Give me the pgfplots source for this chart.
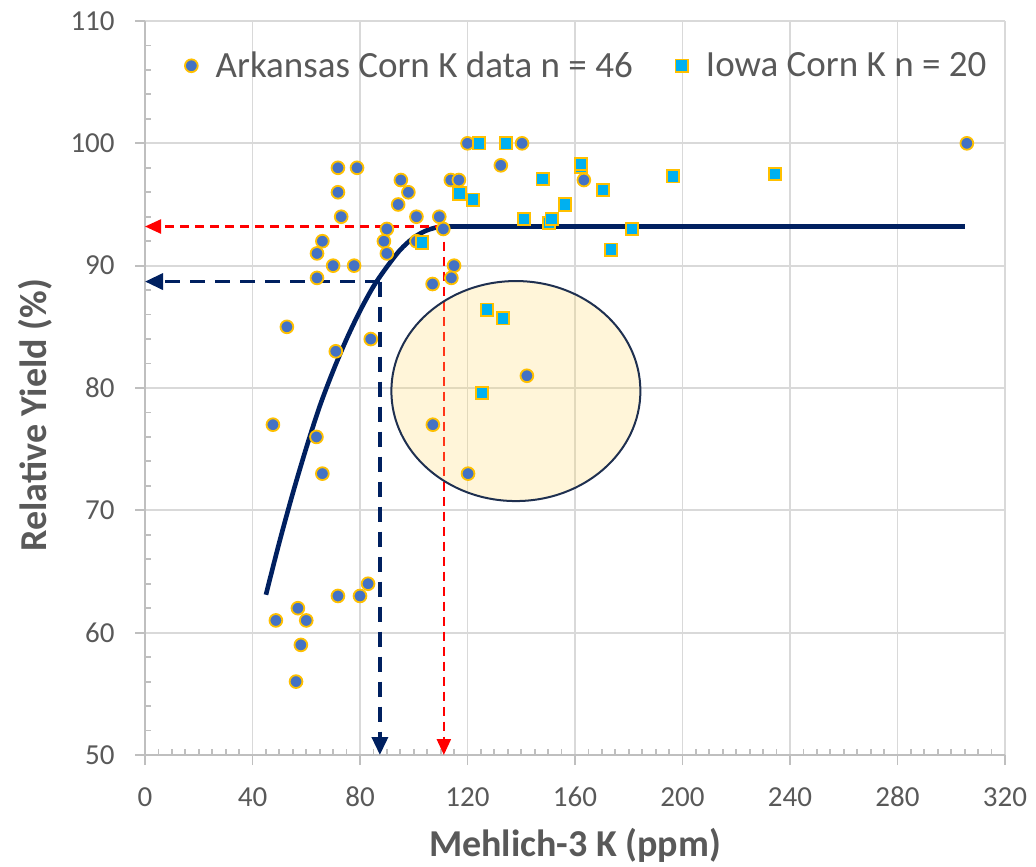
\documentclass[border=0pt]{standalone}
\usepackage{pgfplots}
\pgfplotsset{compat=1.18}
\usepackage{fontspec}
\setmainfont{Carlito}
\usetikzlibrary{arrows.meta}
\definecolor{ark}{HTML}{4472C4}
\definecolor{gold}{HTML}{FFC000}
\definecolor{iowa}{HTML}{00B0F0}
\definecolor{navy}{HTML}{002060}
\definecolor{ellnavy}{HTML}{1F3050}
\definecolor{cream}{HTML}{FFD966}
\definecolor{labelgray}{HTML}{595959}
\definecolor{gridgray}{HTML}{D9D9D9}
\definecolor{axisgray}{HTML}{BFBFBF}
\pgfplotsset{myleg/.style={legend image code/.code={\path (0cm,0cm) (0.55cm,0cm); \draw[mark repeat=2,mark phase=2,##1] plot coordinates {(0cm,0cm)(0.2cm,0cm)(0.55cm,0cm)};}}}
\begin{document}
\begin{tikzpicture}
\begin{axis}[
  scale only axis, width=430pt, height=367pt,
  xmin=0, xmax=320, ymin=50, ymax=110,
  xtick={0,40,...,320}, ytick={50,60,...,110},
  minor x tick num=7, minor y tick num=4,
  axis x line*=bottom, axis y line*=left,
  axis line style={draw=axisgray, line width=1pt, -},
  grid=major, major grid style={draw=gridgray, line width=0.9pt},
  tick align=inside, major tick length=5pt, minor tick length=3pt,
  tick style={draw=axisgray, line width=0.9pt},
  major x tick style={yshift=-5pt}, major y tick style={xshift=-5pt},
  /pgf/number format/assume math mode=true,
  ticklabel style={font=\fontsize{14.5}{17}\selectfont, text=labelgray},
  xticklabel style={anchor=center, yshift=-21pt},
  yticklabel style={anchor=east, inner sep=0pt, xshift=-15pt},
  xlabel={Mehlich-3 K (ppm)}, ylabel={Relative Yield (\%)},
  label style={font=\fontsize{19}{22}\selectfont\bfseries, text=labelgray},
  xlabel style={at={(axis description cs:0.5,-0.1226)}, anchor=center},
  ylabel style={at={(axis description cs:-0.128,0.463)}, anchor=center},
  legend columns=2,
  legend style={at={(0.5116,0.939)}, anchor=center, draw=none, fill=none,
    font=\fontsize{18.5}{22}\selectfont, text=labelgray,
    /tikz/every even column/.append style={column sep=16.5pt}},
  clip=false,
]
% fitted curve
\addplot[forget plot, navy, line width=2.3pt, smooth] coordinates {
 (45,63.1)(50,67.4)(55,71.4)(60,75.1)(65,78.5)(70,81.4)(75,84.0)(80,86.3)
 (85,88.3)(90,89.9)(95,91.3)(100,92.3)(105,92.9)(110,93.2)(112,93.2)};
\addplot[forget plot, navy, line width=2.3pt] coordinates {(112,93.2)(305,93.2)};
% dashed guides
\addplot[forget plot, navy, line width=1.8pt, dash pattern=on 7.5pt off 5pt, -{Triangle[length=9pt,width=8pt]}] coordinates {(87.4,88.7)(0,88.7)};
\addplot[forget plot, navy, line width=1.8pt, dash pattern=on 7.5pt off 5pt, -{Triangle[length=9pt,width=8pt]}] coordinates {(87.4,88.7)(87.4,50)};
\addplot[forget plot, red, line width=1.2pt, dash pattern=on 4.5pt off 3pt, -{Triangle[length=8pt,width=7pt]}] coordinates {(111.2,93.2)(0,93.2)};
\addplot[forget plot, red, line width=1.2pt, dash pattern=on 4.5pt off 3pt, -{Triangle[length=8pt,width=7pt]}] coordinates {(111.2,93.2)(111.2,50)};
% Arkansas
\addplot[only marks, mark=*, mark size=3.2pt, mark options={fill=ark, draw=gold, line width=0.9pt}, myleg] coordinates {
 (47.6,77)(48.7,61)(52.8,85)(56.2,56)(56.9,62)(58,59)(60,61)(64,91)(64,89)(63.8,76)
 (66,92)(66,73)(70,90)(71,83)(71.8,98)(71.8,96)(73,94)(71.8,63)(77.8,90)(78.9,98)
 (80,63)(83,64)(84,84)(88.9,92)(90,93)(90,91)(94.2,95)(95.2,97)(98,96)(101,94)
 (101,92)(107,88.5)(107.1,77)(109.5,94)(111,93)(113.8,97)(116.8,97)(115,90)(114,89)(120,100)
 (120.2,73)(132.4,98.2)(140.3,100)(142.1,81)(163.3,97)(305.8,100)};
\addlegendentry{Arkansas Corn K data n = 46}
% Iowa
\addplot[only marks, mark=square*, mark size=3.1pt, mark options={fill=iowa, draw=gold, line width=0.9pt}, myleg] coordinates {
 (124.3,100)(134.3,100)(117,95.9)(122,95.4)(103,91.9)(148,97.1)(162.2,98.1)(162.2,98.3)
 (170.4,96.2)(156.3,95)(141,93.8)(150.3,93.5)(151.3,93.8)(181.2,93)(173.4,91.3)(196.5,97.3)
 (234.4,97.5)(127.3,86.4)(133.2,85.7)(125.4,79.6)};
\addlegendentry{Iowa Corn K n = 20}
% highlight ellipse
\draw[draw=ellnavy, line width=1pt, fill=cream, fill opacity=0.25] (axis cs:138,79.75) ellipse [x radius=62.25pt, y radius=55pt];
\end{axis}
\pgfresetboundingbox
\path[use as bounding box] ([shift={(-72.5pt,-55.5pt)}]current axis.south west) rectangle ([shift={(445.5pt,377.5pt)}]current axis.south west);
\end{tikzpicture}
\end{document}
